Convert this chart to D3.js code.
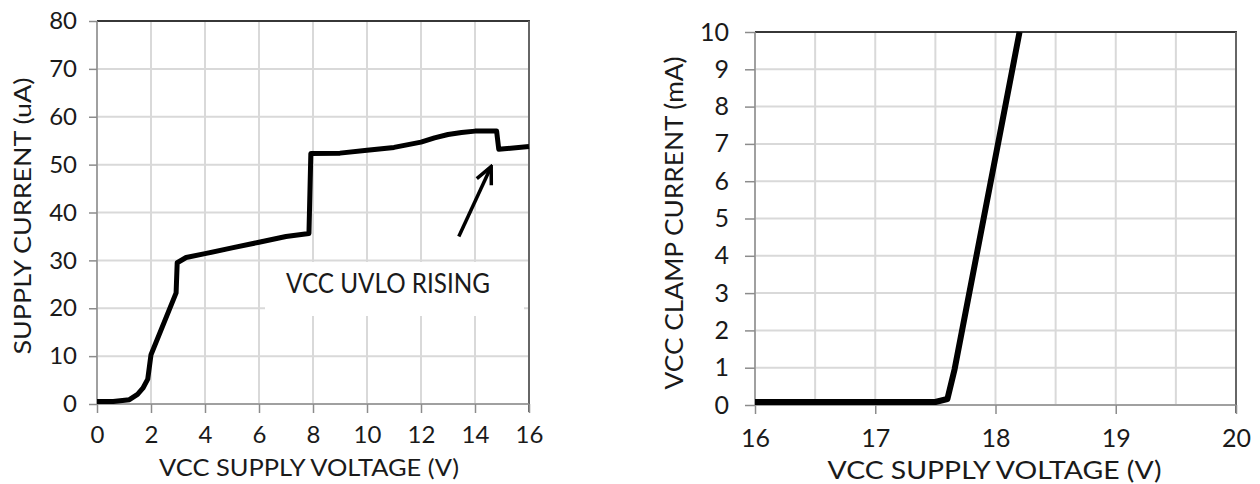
<!DOCTYPE html>
<html>
<head>
<meta charset="utf-8">
<script src="https://cdn.jsdelivr.net/npm/d3@7"></script>
<style>
  body { margin: 0; background: #fff; }
  svg text { font-family: Lato, "Open Sans", sans-serif; fill: #1a1a1a; }
</style>
</head>
<body>
<script>
// left panel: supply current vs VCC
const supplyV = [0, 0.6, 1.2, 1.5, 1.7, 1.88, 2.0, 2.93, 2.97, 3.3, 4, 5, 6, 7, 7.85, 7.92, 9, 10, 11, 12, 12.5, 13, 13.5, 14, 14.8, 14.88, 16];
const supplyI = [0.5, 0.5, 0.9, 2, 3.3, 5.2, 10.3, 23.2, 29.5, 30.6, 31.4, 32.6, 33.8, 35, 35.6, 52.3, 52.4, 53, 53.6, 54.7, 55.6, 56.3, 56.7, 57, 57, 53.2, 53.8];
const supplyXTicks = [0, 2, 4, 6, 8, 10, 12, 14, 16];
const supplyYTicks = [0, 10, 20, 30, 40, 50, 60, 70, 80];
// arrow for the UVLO note, [V, uA]
const uvloArrow = [[13.4, 35], [14.6, 49.6]];

// right panel: clamp current vs VCC
const clampV = [16, 17.5, 17.6, 17.66, 18.2];
const clampI = [0.08, 0.08, 0.16, 0.96, 10];
const clampXTicks = [16, 17, 18, 19, 20];
const clampXGrid = [16, 16.5, 17, 17.5, 18, 18.5, 19, 19.5, 20];
const clampYTicks = [0, 1, 2, 3, 4, 5, 6, 7, 8, 9, 10];

const svg = d3.select("body").append("svg")
  .attr("width", 1260).attr("height", 484);

svg.append("defs").append("marker")
  .attr("id", "head")
  .attr("viewBox", "-20 -10 22 20")
  .attr("refX", 0).attr("refY", 0)
  .attr("markerWidth", 22).attr("markerHeight", 20)
  .attr("markerUnits", "userSpaceOnUse")
  .attr("orient", "auto")
  .append("path")
  .attr("d", "M-17,-8 L0,0 L-17,8")
  .attr("fill", "none").attr("stroke", "#000").attr("stroke-width", 3.5);

function panel(o) {
  const g = svg.append("g");
  const x = d3.scaleLinear().domain(o.xDomain).range([o.left, o.right]);
  const y = d3.scaleLinear().domain(o.yDomain).range([o.bottom, o.top]);

  // grid
  g.append("g").selectAll("line").data(o.xGrid).join("line")
    .attr("x1", d => x(d)).attr("x2", d => x(d))
    .attr("y1", o.top).attr("y2", o.bottom)
    .attr("stroke", "#d9d9d9").attr("stroke-width", 2);
  g.append("g").selectAll("line").data(o.yTicks).join("line")
    .attr("x1", o.left).attr("x2", o.right)
    .attr("y1", d => y(d)).attr("y2", d => y(d))
    .attr("stroke", "#d9d9d9").attr("stroke-width", 2);

  if (o.before) o.before(g, x, y);

  // frame: top and right edges
  g.append("line").attr("x1", o.left).attr("x2", o.right + 1)
    .attr("y1", o.top).attr("y2", o.top)
    .attr("stroke", "#000").attr("stroke-width", 1.5);
  g.append("line").attr("x1", o.right).attr("x2", o.right)
    .attr("y1", o.top).attr("y2", o.bottom + 8)
    .attr("stroke", "#666").attr("stroke-width", 2);

  const xAxis = g.append("g")
    .attr("transform", `translate(0,${o.bottom})`)
    .call(d3.axisBottom(x).tickValues(o.xTicks).tickSize(9).tickPadding(o.xPad).tickFormat(d3.format("d")));
  const yAxis = g.append("g")
    .attr("transform", `translate(${o.left},0)`)
    .call(d3.axisLeft(y).tickValues(o.yTicks).tickSize(o.yTickSize).tickPadding(o.yPad).tickFormat(d3.format("d")));
  [xAxis, yAxis].forEach(a => {
    a.select(".domain").attr("stroke", "#8c8c8c").attr("stroke-width", 1.5);
    a.selectAll(".tick line").attr("stroke", "#8c8c8c").attr("stroke-width", 1.5);
    a.selectAll("text").attr("font-size", o.tickFont).attr("fill", "#1a1a1a")
      .style("font-family", "Lato, sans-serif");
  });
  yAxis.select(".domain").attr("d", `M0,${o.bottom}V${o.top}`);
  xAxis.select(".domain").attr("d", `M${o.left},0H${o.right}`);

  // curve
  const pts = o.xs.map((v, i) => [v, o.ys[i]]);
  g.append("path")
    .attr("d", d3.line().x(d => x(d[0])).y(d => y(d[1]))(pts))
    .attr("fill", "none").attr("stroke", "#000")
    .attr("stroke-width", o.lineW).attr("stroke-linejoin", "round");

  // titles
  g.append("text")
    .attr("x", (o.left + o.right) / 2 + o.xTitleShift).attr("y", o.xTitleY)
    .attr("text-anchor", "middle").attr("font-size", o.titleFont)
    .attr("textLength", o.xTitleLen).attr("lengthAdjust", "spacingAndGlyphs")
    .text(o.xTitle);
  g.append("text")
    .attr("transform", `translate(${o.yTitleX},${o.yTitleCY}) rotate(-90)`)
    .attr("text-anchor", "middle").attr("font-size", o.titleFont)
    .attr("textLength", o.yTitleLen).attr("lengthAdjust", "spacingAndGlyphs")
    .text(o.yTitle);

  if (o.after) o.after(g, x, y);
}

panel({
  xDomain: [0, 16], yDomain: [0, 80],
  left: 97, right: 529, top: 21, bottom: 404,
  xTicks: supplyXTicks, xGrid: supplyXTicks, yTicks: supplyYTicks,
  yTickSize: 8, yPad: 12, xPad: 13, tickFont: 24,
  xs: supplyV, ys: supplyI, lineW: 5,
  xTitle: "VCC SUPPLY VOLTAGE (V)", xTitleY: 476, xTitleShift: -4, xTitleLen: 300,
  yTitle: "SUPPLY CURRENT (uA)", yTitleX: 31, yTitleCY: 216, yTitleLen: 277,
  titleFont: 24,
  before: (g, x, y) => {
    // white box behind the note hides grid
    g.append("rect").attr("x", 265).attr("y", 262)
      .attr("width", 259).attr("height", 54).attr("fill", "#fff");
  },
  after: (g, x, y) => {
    g.append("text").attr("x", 388).attr("y", 293)
      .attr("text-anchor", "middle").attr("font-size", 26)
      .attr("textLength", 204).attr("lengthAdjust", "spacingAndGlyphs")
      .text("VCC UVLO RISING");
    g.append("line")
      .attr("x1", x(uvloArrow[0][0])).attr("y1", y(uvloArrow[0][1]))
      .attr("x2", x(uvloArrow[1][0])).attr("y2", y(uvloArrow[1][1]))
      .attr("stroke", "#000").attr("stroke-width", 3.5)
      .attr("marker-end", "url(#head)");
  }
});

panel({
  xDomain: [16, 20], yDomain: [0, 10],
  left: 755, right: 1236, top: 32, bottom: 405,
  xTicks: clampXTicks, xGrid: clampXGrid, yTicks: clampYTicks,
  yTickSize: 10, yPad: 16, xPad: 15, tickFont: 25,
  xs: clampV, ys: clampI, lineW: 6,
  xTitle: "VCC SUPPLY VOLTAGE (V)", xTitleY: 479, xTitleShift: -1, xTitleLen: 334,
  yTitle: "VCC CLAMP CURRENT (mA)", yTitleX: 683, yTitleCY: 223, yTitleLen: 333,
  titleFont: 25
});
</script>
</body>
</html>
